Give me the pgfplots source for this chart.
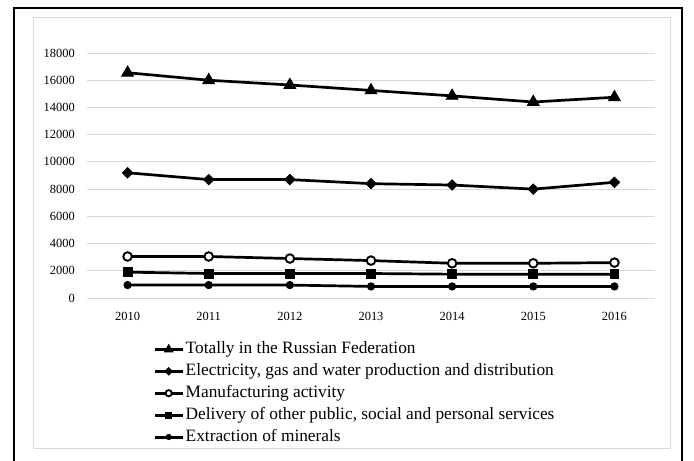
\documentclass[border=0pt]{standalone}
\usepackage{fontspec}
\setmainfont{Liberation Serif}
\usepackage{pgfplots}
\pgfplotsset{compat=1.18}

\definecolor{gridgray}{HTML}{D9D9D9}

\begin{document}
\begin{tikzpicture}
% page area and the two frames
\path[use as bounding box] (0,0) rectangle (694bp,-461bp);
\fill[white] (0,0) rectangle (694bp,-461bp);
\draw[gridgray, line width=0.8bp] (33bp,-17bp) rectangle (670bp,-448bp);
\draw[black, line width=2bp] (13.5bp,-461bp) -- (13.5bp,-7.5bp) -- (682bp,-7.5bp) -- (682bp,-461bp);

\begin{axis}[
  at={(87bp,-298bp)}, anchor=south west,
  scale only axis, width=568bp, height=245bp,
  xmin=-0.5, xmax=6.5, ymin=0, ymax=18000,
  clip=false,
  axis line style={draw=none},
  xtick={0,1,2,3,4,5,6},
  xticklabels={2010,2011,2012,2013,2014,2015,2016},
  ytick={0,2000,...,18000},
  ymajorgrids, grid style={gridgray, line width=0.8bp},
  major tick length=0pt,
  /pgf/number format/assume math mode=true,
  scaled y ticks=false,
  yticklabel style={/pgf/number format/1000 sep={}, anchor=east, inner sep=0pt, xshift=-12bp},
  xticklabel style={anchor=north, inner sep=0pt, yshift=-14bp},
  tick label style={font=\fontsize{12.5}{14}\selectfont},
  every axis plot/.append style={black, line width=2.7bp},
  legend cell align=left,
  legend style={
    at={(0.1162,-0.178)}, anchor=north west,
    draw=none, fill=none, inner sep=0pt,
    column sep=0pt, row sep=6.7bp,
    font=\fontsize{17.4}{19}\selectfont,
    nodes={text height=11.7bp, text depth=3.5bp, inner ysep=0pt, inner xsep=1.5bp},
  },
  % a thick short line with one smaller mark in its middle
  legend image code/.code={
    \draw[#1, mark=none, line width=3bp] (0bp,0bp) -- (28bp,0bp);
    \draw[#1, every mark/.append style={scale=0.72}] plot coordinates {(14bp,0bp)};
  },
]
\addplot[black, mark=triangle*, mark size=6.8bp, mark options={solid, fill=black, line width=0.8bp}]
  coordinates {(0,16550) (1,16000) (2,15650) (3,15250) (4,14850) (5,14400) (6,14750)};
\addlegendentry{Totally in the Russian Federation}

\addplot[black, mark=square*, mark size=3.7bp, mark options={solid, fill=black, rotate=45, line width=0.8bp}]
  coordinates {(0,9200) (1,8700) (2,8700) (3,8400) (4,8300) (5,8000) (6,8500)};
\addlegendentry{Electricity, gas and water production and distribution}

\addplot[black, mark=*, mark size=4.3bp, mark options={solid, fill=white, line width=1.9bp}]
  coordinates {(0,3050) (1,3050) (2,2900) (3,2750) (4,2550) (5,2550) (6,2600)};
\addlegendentry{Manufacturing activity}

\addplot[black, mark=square*, mark size=4.4bp, mark options={solid, fill=black, line width=0.8bp}]
  coordinates {(0,1900) (1,1800) (2,1800) (3,1800) (4,1750) (5,1750) (6,1750)};
\addlegendentry{Delivery of other public, social and personal services}

\addplot[black, mark=*, mark size=3.7bp, mark options={solid, fill=black, line width=0.8bp}]
  coordinates {(0,950) (1,950) (2,950) (3,850) (4,850) (5,850) (6,850)};
\addlegendentry{Extraction of minerals}
\end{axis}
\end{tikzpicture}
\end{document}
